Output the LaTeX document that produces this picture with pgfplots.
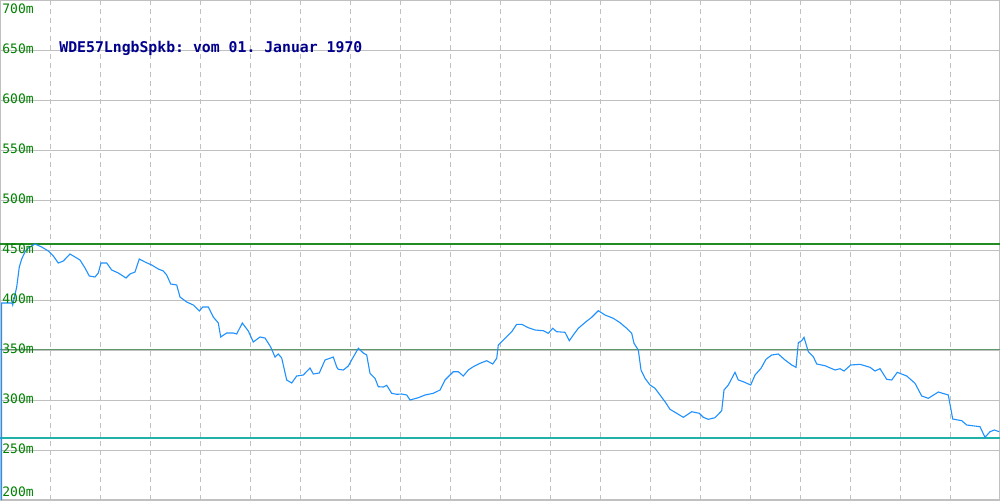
\documentclass[border=0pt]{standalone}
\usepackage{pgfplots}
\pgfplotsset{compat=1.18}
\usepackage{fontspec}
\setmonofont{DejaVu Sans Mono}
\definecolor{gridgray}{RGB}{192,192,192}
\definecolor{lblgreen}{RGB}{0,128,0}
\definecolor{ttlblue}{RGB}{0,0,140}
\definecolor{lineblue}{RGB}{30,144,255}
\definecolor{maxgreen}{RGB}{34,139,34}
\definecolor{avggreen}{RGB}{95,150,110}
\definecolor{minteal}{RGB}{32,178,170}
\begin{document}
\begin{tikzpicture}
\begin{axis}[
  width=500pt, height=250pt, scale only axis,
  xmin=0, xmax=1000, ymin=200, ymax=700,
  axis line style={gridgray, line width=0.6pt},
  xtick={50,100,...,950}, ytick={250,300,...,650},
  xticklabels={}, yticklabels={},
  major tick length=0pt,
  grid=major,
  x grid style={gridgray, line width=0.5pt, dash pattern=on 2.5pt off 2pt},
  y grid style={gridgray, line width=0.5pt},
  clip=false,
]
\addplot[draw=maxgreen, line width=0.55pt] coordinates {(0,456) (1000,456)};
\addplot[draw=avggreen, line width=0.55pt] coordinates {(0,350.6) (1000,350.6)};
\addplot[draw=minteal, line width=0.55pt] coordinates {(0,262) (1000,262)};
\addplot[draw=lineblue, line width=0.55pt] coordinates {
(1.5,200) (1.7,397) (12,397) (12.7,395) (16.7,413) (19.3,433) (21.7,441) (25,448) (28.3,452) (35,456)
(41.7,453) (48.3,449) (53.3,444) (58.3,437) (63.3,439) (70,446) (75,443) (80,440) (85,432) (89.3,424)
(95,423) (98.3,427) (101,437) (106.7,437) (111.7,430) (118.3,427) (126,422) (130,426) (135,428) (139.3,441)
(145,438) (151.7,435) (158.3,431) (163.3,429) (166.7,425) (170.7,416) (176.7,415) (180,403) (186.7,398)
(193.3,395) (199.3,389) (202.7,393) (208.3,393) (213.3,383) (218.3,377) (220.7,363) (226.7,367) (233.3,367)
(236.7,366) (242.3,377) (248.3,369) (253.3,358) (260,363) (265,362) (270.7,353) (275,343) (278.3,346)
(281.7,342) (286.7,320) (291.7,317) (296.7,324) (303.3,325) (310,332) (313.3,326) (319.3,327) (325,340)
(333.3,343) (336.7,333) (338.3,330.7) (343.3,330) (348.3,334) (353.3,343) (358.3,351.7) (363.3,347)
(366.7,345) (370,326.7) (375,321.7) (378.3,313.3) (383.3,313) (386.7,314.7) (391.7,306.7) (396.7,305.7)
(401.7,306) (406.7,305) (410,300) (418.3,302.3) (425,305) (433.3,306.7) (440,310) (445,320) (453.3,328.3)
(458.3,328.3) (463.3,324) (468.3,330) (473.3,333.3) (480,336.7) (486.7,339.3) (492.7,336) (496.7,341.7)
(498.3,355) (505,361.7) (511.7,368.3) (516.7,375.7) (521.7,375.7) (528.3,372.3) (535,370) (543.3,369.3)
(548.3,366.7) (552.7,371.7) (556.7,368.3) (565,367.7) (569.3,359.3) (573.3,365) (578.3,371.7) (586,378.3)
(591.7,382.7) (598.3,389.3) (605,385) (613.3,381.7) (620,377.3) (626.7,371.7) (631.7,366.7) (634,356.7)
(638.3,350) (641,330) (645,321.7) (650,315) (655,311.7) (660,305) (665,298.3) (670,290.7) (676.7,286.7)
(683.3,282.7) (691.7,288.3) (699.3,286.7) (703.3,282.7) (708.3,280.7) (715,282.3) (721.7,289.3) (724,310)
(728.3,315) (735,327.7) (738.3,320) (743.3,318.3) (750.7,315) (755,325) (761,331.7) (766,340.7) (771.7,345)
(778.3,346) (785,340) (791.7,335) (796,332.7) (798.3,357.3) (801.7,359.3) (804,362.7) (808.3,348.3)
(813.3,343.3) (816.7,336) (825,334.3) (835,330) (840,331.3) (844,329) (850.7,335) (860,335.7) (870,332.7)
(875,329) (880,331.3) (886.7,320.7) (891.7,320) (897.3,327.7) (906.7,324) (915,316.7) (921.7,304)
(928.3,301.7) (938.3,308) (948.3,305) (952.7,281) (961.7,279.3) (966.7,275) (980,273.3) (985,262.7)
(990,268.3) (994.3,270) (999.3,268.3)
};
\foreach \v in {250,300,...,650} {
  \edef\tmp{\noexpand\node[anchor=west, inner sep=0pt, text=lblgreen, font=\noexpand\ttfamily\noexpand\fontsize{6.5}{7}\noexpand\selectfont] at (axis cs:2,\v+1.5) {\v m};}
  \tmp
}
\node[anchor=north west, inner sep=0pt, text=lblgreen, font=\ttfamily\fontsize{6.5}{7}\selectfont] at (axis cs:2,697) {700m};
\node[anchor=south west, inner sep=0pt, text=lblgreen, font=\ttfamily\fontsize{6.5}{7}\selectfont] at (axis cs:2,202.5) {200m};
\node[anchor=west, inner sep=0pt, text=ttlblue, font=\ttfamily\bfseries\fontsize{7.4}{8}\selectfont] at (axis cs:59,652) {WDE57LngbSpkb: vom 01. Januar 1970};
\coordinate (bbsw) at (rel axis cs:0,0);
\coordinate (bbne) at (rel axis cs:1,1);
\end{axis}
\pgfresetboundingbox
\useasboundingbox (bbsw) rectangle (bbne);
\end{tikzpicture}
\end{document}
